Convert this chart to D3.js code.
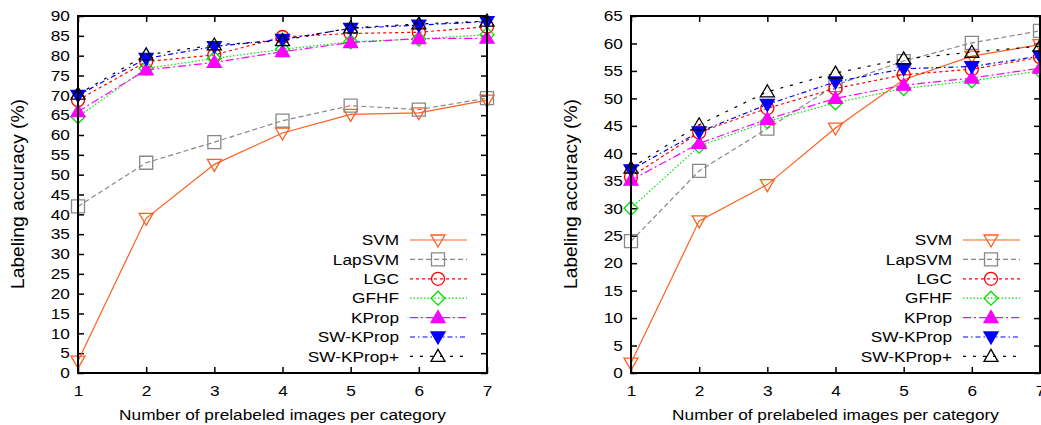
<!DOCTYPE html>
<html>
<head>
<meta charset="utf-8">
<script src="https://cdn.jsdelivr.net/npm/d3@7"></script>
<style>
  body { margin: 0; background: #fff; }
  svg { display: block; }
  text { font-family: "Liberation Sans", Arial, sans-serif; fill: #000; }
</style>
</head>
<body>
<div id="chart"></div>
<script>
// x categories and method names
const categories = [1, 2, 3, 4, 5, 6, 7];
const methods = ['SVM', 'LapSVM', 'LGC', 'GFHF', 'KProp', 'SW-KProp', 'SW-KProp+'];

// left panel accuracies (%)
const leftSVM = [3, 39, 52.6, 60.5, 65.2, 65.6, 68.8];
const leftLapSVM = [42, 53, 58.2, 63.6, 67.4, 66.4, 69.3];
const leftLGC = [68.8, 78.5, 80.2, 84.7, 85.6, 85.9, 87.3];
const leftGFHF = [64.6, 76.8, 79.3, 81.6, 83.5, 84.2, 85.3];
const leftKProp = [65.9, 76.4, 78.3, 81.0, 83.3, 84.3, 84.4];
const leftSWKProp = [70.0, 79.3, 82.3, 84.1, 86.9, 87.7, 88.6];
const leftSWKPropPlus = [70.3, 80.2, 82.7, 83.8, 87.0, 88.0, 88.7];
const leftYTicks = d3.range(0, 91, 5);

// right panel accuracies (%)
const rightSVM = [1.8, 27.7, 34.3, 44.6, 53.4, 57.7, 59.8];
const rightLapSVM = [24, 36.8, 44.5, 52.4, 56.8, 60.1, 62.3];
const rightLGC = [35.7, 43.8, 48.2, 51.8, 54.3, 55.3, 57.5];
const rightGFHF = [30, 41.3, 45.8, 49.2, 51.8, 53.2, 55.0];
const rightKProp = [35.1, 41.8, 46.2, 50.0, 52.4, 53.7, 55.5];
const rightSWKProp = [37.0, 43.9, 48.9, 53.0, 55.4, 55.8, 57.7];
const rightSWKPropPlus = [37.3, 45.2, 51.2, 54.6, 57.2, 58.4, 59.5];
const rightYTicks = d3.range(0, 66, 5);

// drawing styles, one per method
const styles = [
  { color: '#ff5f1f', dash: null, marker: 'triDown', fill: false },
  { color: '#888888', dash: '5,3', marker: 'square', fill: false },
  { color: '#ff0000', dash: '3,3', marker: 'circle', fill: false },
  { color: '#00e000', dash: '1.5,2', marker: 'diamond', fill: false },
  { color: '#ff00ff', dash: '8,3,2,3', marker: 'triUp', fill: true },
  { color: '#0000ff', dash: '5,3,1.5,3', marker: 'triDown', fill: true },
  { color: '#000000', dash: '3,7', marker: 'triUp', fill: false }
];

const width = 1041, height = 425;
const stretch = 1.15; // text in the source is a bit wide
const svg = d3.select('#chart').append('svg')
  .attr('width', width)
  .attr('height', height);

function markerPath(type) {
  const p = d3.path();
  if (type === 'triUp') {
    p.moveTo(0, -7); p.lineTo(7, 5); p.lineTo(-7, 5); p.closePath();
  } else if (type === 'triDown') {
    p.moveTo(0, 7); p.lineTo(7, -5); p.lineTo(-7, -5); p.closePath();
  } else if (type === 'square') {
    p.rect(-6.5, -6.5, 13, 13);
  } else if (type === 'diamond') {
    p.moveTo(0, -7); p.lineTo(7, 0); p.lineTo(0, 7); p.lineTo(-7, 0); p.closePath();
  } else {
    p.arc(0, 0, 6.5, 0, 2 * Math.PI);
  }
  return p.toString();
}

function drawPanel(opts) {
  const x = d3.scaleLinear().domain([1, 7]).range([opts.left, opts.right]);
  const y = d3.scaleLinear().domain([0, opts.yMax]).range([373, 16]);
  const g = svg.append('g').attr('class', 'panel');

  // axes with inward ticks
  const ax = g.append('g').attr('class', 'axes');
  ax.append('g')
    .attr('transform', `translate(${opts.left},0)`)
    .call(d3.axisLeft(y).tickValues(opts.yTicks).tickSize(-6).tickPadding(7))
    .call(s => s.select('.domain').remove());
  ax.append('g')
    .attr('transform', `translate(${opts.right},0)`)
    .call(d3.axisRight(y).tickValues(opts.yTicks).tickSize(-6).tickFormat(''))
    .call(s => s.select('.domain').remove());
  ax.append('g')
    .attr('transform', 'translate(0,373)')
    .call(d3.axisBottom(x).tickValues(categories).tickSize(-6).tickPadding(12).tickFormat(d3.format('d')))
    .call(s => s.select('.domain').remove());
  ax.append('g')
    .attr('transform', 'translate(0,16)')
    .call(d3.axisTop(x).tickValues(categories).tickSize(-6).tickFormat(''))
    .call(s => s.select('.domain').remove());
  ax.selectAll('.tick line').attr('stroke', '#000').attr('stroke-width', 1.5);
  ax.selectAll('.tick text').attr('font-size', 15).attr('fill', '#000')
    .attr('font-family', '"Liberation Sans", Arial, sans-serif')
    .attr('transform', `scale(${stretch},1)`);

  // series
  const line = d3.line().x((d, i) => x(categories[i])).y(d => y(d));
  opts.series.forEach((vals, k) => {
    const st = styles[k];
    const sg = g.append('g').attr('class', 'series');
    sg.append('path')
      .attr('d', line(vals))
      .attr('fill', 'none')
      .attr('stroke', st.color)
      .attr('stroke-width', 1.2)
      .attr('stroke-dasharray', st.dash);
    sg.selectAll('path.pt')
      .data(vals)
      .join('path')
      .attr('class', 'pt')
      .attr('transform', (d, i) => `translate(${x(categories[i])},${y(d)})`)
      .attr('d', markerPath(st.marker))
      .attr('fill', st.fill ? st.color : 'none')
      .attr('stroke', st.color)
      .attr('stroke-width', 1.3);
  });

  // legend
  const lg = g.append('g').attr('class', 'legend');
  methods.forEach((name, k) => {
    const st = styles[k];
    const ly = 240 + k * 19.4;
    lg.append('text')
      .attr('transform', `translate(${opts.legendX},${ly}) scale(${stretch},1)`)
      .attr('dy', '0.35em')
      .attr('text-anchor', 'end')
      .attr('font-size', 15)
      .text(name);
    lg.append('line')
      .attr('x1', opts.legendX + 11)
      .attr('x2', opts.legendX + 68)
      .attr('y1', ly).attr('y2', ly)
      .attr('stroke', st.color)
      .attr('stroke-width', 1.2)
      .attr('stroke-dasharray', st.dash);
    lg.append('path')
      .attr('transform', `translate(${opts.legendX + 39},${ly})`)
      .attr('d', markerPath(st.marker))
      .attr('fill', st.fill ? st.color : 'none')
      .attr('stroke', st.color)
      .attr('stroke-width', 1.3);
  });

  // border
  g.append('rect')
    .attr('x', opts.left).attr('y', 16)
    .attr('width', opts.right - opts.left).attr('height', 373 - 16)
    .attr('fill', 'none')
    .attr('stroke', '#000')
    .attr('stroke-width', 2);

  // axis titles
  g.append('text')
    .attr('transform', `translate(${opts.left - 60},194) rotate(-90) scale(1.2,${stretch})`)
    .attr('text-anchor', 'middle')
    .attr('dy', '0.35em')
    .attr('font-size', 16)
    .text('Labeling accuracy (%)');
  g.append('text')
    .attr('transform', `translate(${(opts.left + opts.right) / 2},420) scale(${stretch},1)`)
    .attr('text-anchor', 'middle')
    .attr('font-size', 15)
    .text('Number of prelabeled images per category');
}

drawPanel({
  left: 78, right: 487, yMax: 90, yTicks: leftYTicks, legendX: 399,
  series: [leftSVM, leftLapSVM, leftLGC, leftGFHF, leftKProp, leftSWKProp, leftSWKPropPlus]
});
drawPanel({
  left: 631, right: 1040, yMax: 65, yTicks: rightYTicks, legendX: 952,
  series: [rightSVM, rightLapSVM, rightLGC, rightGFHF, rightKProp, rightSWKProp, rightSWKPropPlus]
});
</script>
</body>
</html>
